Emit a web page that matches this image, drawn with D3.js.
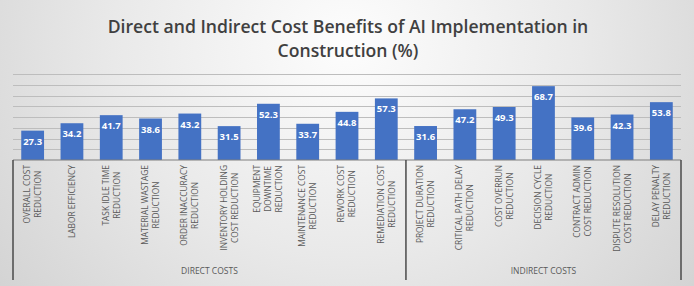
<!DOCTYPE html>
<html>
<head>
<meta charset="utf-8">
<script src="https://cdn.jsdelivr.net/npm/d3@7"></script>
<style>
  html, body { margin: 0; padding: 0; background: #fff; }
  svg { display: block; }
</style>
</head>
<body>
<script>
const width = 694;
const height = 286;

// chart data
const directLabels = [
  ['OVERALL COST', 'REDUCTION'],
  ['LABOR EFFICIENCY'],
  ['TASK IDLE TIME', 'REDUCTION'],
  ['MATERIAL WASTAGE', 'REDUCTION'],
  ['ORDER INACCURACY', 'REDUCTION'],
  ['INVENTORY HOLDING', 'COST REDUCTION'],
  ['EQUIPMENT', 'DOWNTIME', 'REDUCTION'],
  ['MAINTENANCE COST', 'REDUCTION'],
  ['REWORK COST', 'REDUCTION'],
  ['REMEDIATION COST', 'REDUCTION']
];
const directValues = [27.3, 34.2, 41.7, 38.6, 43.2, 31.5, 52.3, 33.7, 44.8, 57.3];

const indirectLabels = [
  ['PROJECT DURATION', 'REDUCTION'],
  ['CRITICAL PATH DELAY', 'REDUCTION'],
  ['COST OVERRUN', 'REDUCTION'],
  ['DECISION CYCLE', 'REDUCTION'],
  ['CONTRACT ADMIN', 'COST REDUCTION'],
  ['DISPUTE RESOLUTION', 'COST REDUCTION'],
  ['DELAY PENALTY', 'REDUCTION']
];
const indirectValues = [31.6, 47.2, 49.3, 68.7, 39.6, 42.3, 53.8];

const groupNames = ['DIRECT COSTS', 'INDIRECT COSTS'];
const yTicks = [0, 10, 20, 30, 40, 50, 60, 70, 80];
const titleLines = ['Direct and Indirect Cost Benefits of AI Implementation in', 'Construction (%)'];

const data = [
  ...directLabels.map((l, i) => ({ group: 0, lines: l, value: directValues[i] })),
  ...indirectLabels.map((l, i) => ({ group: 1, lines: l, value: indirectValues[i] }))
];
data.forEach((d, i) => d.key = i);

const plot = { left: 13, right: 681, top: 74, bottom: 160 };

const svg = d3.select('body')
  .append('svg')
  .attr('width', width)
  .attr('height', height);

// background gradient
const defs = svg.append('defs');
const grad = defs.append('radialGradient')
  .attr('id', 'bg')
  .attr('cx', '50%').attr('cy', '15%')
  .attr('r', '75%')
  .attr('gradientTransform', 'translate(0.5 0.15) scale(1 2.2) translate(-0.5 -0.15)');
grad.append('stop').attr('offset', '0%').attr('stop-color', '#fdfdfd');
grad.append('stop').attr('offset', '45%').attr('stop-color', '#e9e9e9');
grad.append('stop').attr('offset', '100%').attr('stop-color', '#cbcbcb');

svg.append('rect')
  .attr('width', width)
  .attr('height', height)
  .attr('fill', 'url(#bg)');

// title
svg.append('g')
  .selectAll('text')
  .data(titleLines)
  .enter()
  .append('text')
  .attr('x', 348)
  .attr('y', (d, i) => 33 + i * 24)
  .attr('text-anchor', 'middle')
  .style('font-family', '"Open Sans", sans-serif')
  .style('font-weight', 600)
  .style('font-size', '17.6px')
  .style('fill', '#404040')
  .text(d => d);

const xScale = d3.scaleBand()
  .domain(data.map(d => d.key))
  .range([plot.left, plot.right])
  .paddingInner(0.42)
  .paddingOuter(0.21);

const yScale = d3.scaleLinear()
  .domain([0, 80])
  .range([plot.bottom, plot.top]);

// gridlines
svg.append('g')
  .selectAll('line')
  .data(yTicks.slice(1))
  .enter()
  .append('line')
  .attr('x1', plot.left)
  .attr('x2', plot.right)
  .attr('y1', d => Math.round(yScale(d)) + 0.5)
  .attr('y2', d => Math.round(yScale(d)) + 0.5)
  .style('stroke', '#bdbdbd')
  .style('stroke-width', 1);

// bars
svg.append('g')
  .selectAll('rect')
  .data(data)
  .enter()
  .append('rect')
  .attr('x', d => xScale(d.key))
  .attr('width', xScale.bandwidth())
  .attr('y', d => yScale(d.value))
  .attr('height', d => yScale(0) - yScale(d.value))
  .style('fill', '#4472c4');

// value labels
svg.append('g')
  .selectAll('text')
  .data(data)
  .enter()
  .append('text')
  .attr('x', d => xScale(d.key) + xScale.bandwidth() / 2)
  .attr('y', d => yScale(d.value) + 14)
  .attr('text-anchor', 'middle')
  .style('font-family', '"Open Sans", sans-serif')
  .style('font-weight', 700)
  .style('font-size', '9.5px')
  .style('fill', '#ffffff')
  .text(d => d.value.toFixed(1));

// category axis box
const step = xScale.step();
const splitX = plot.left + directValues.length * step;
const axisG = svg.append('g').style('stroke', '#4a4a4a').style('stroke-width', 1.5);
axisG.append('line')
  .attr('x1', plot.left).attr('x2', plot.right)
  .attr('y1', plot.bottom).attr('y2', plot.bottom)
  .style('stroke', '#7f7f7f').style('stroke-width', 1);
[plot.left, splitX, plot.right].forEach(x => {
  axisG.append('line')
    .attr('x1', x).attr('x2', x)
    .attr('y1', plot.bottom).attr('y2', 280);
});

// category labels
const labelTop = 165;
const catG = svg.append('g');
data.forEach(d => {
  const cx = xScale(d.key) + xScale.bandwidth() / 2;
  const n = d.lines.length;
  const g = catG.append('g');
  const texts = g.selectAll('text')
    .data(d.lines)
    .enter()
    .append('text')
    .attr('text-anchor', 'middle')
    .attr('dy', '0.35em')
    .style('font-family', '"Open Sans", sans-serif')
    .style('font-size', '8.4px')
    .style('fill', '#595959')
    .text(t => t);
  let maxW = 0;
  texts.each(function() { maxW = Math.max(maxW, this.getComputedTextLength()); });
  const cy = labelTop + maxW / 2;
  texts.attr('transform', (t, i) => {
    const x = cx + (i - (n - 1) / 2) * 11;
    return `translate(${x},${cy}) rotate(-90)`;
  });
});

// group labels
svg.append('g')
  .selectAll('text')
  .data(groupNames)
  .enter()
  .append('text')
  .attr('x', (d, i) => i === 0 ? (plot.left + splitX) / 2 : (splitX + plot.right) / 2)
  .attr('y', 274)
  .attr('text-anchor', 'middle')
  .style('font-family', '"Open Sans", sans-serif')
  .style('font-size', '8.5px')
  .style('fill', '#595959')
  .text(d => d);
</script>
</body>
</html>
